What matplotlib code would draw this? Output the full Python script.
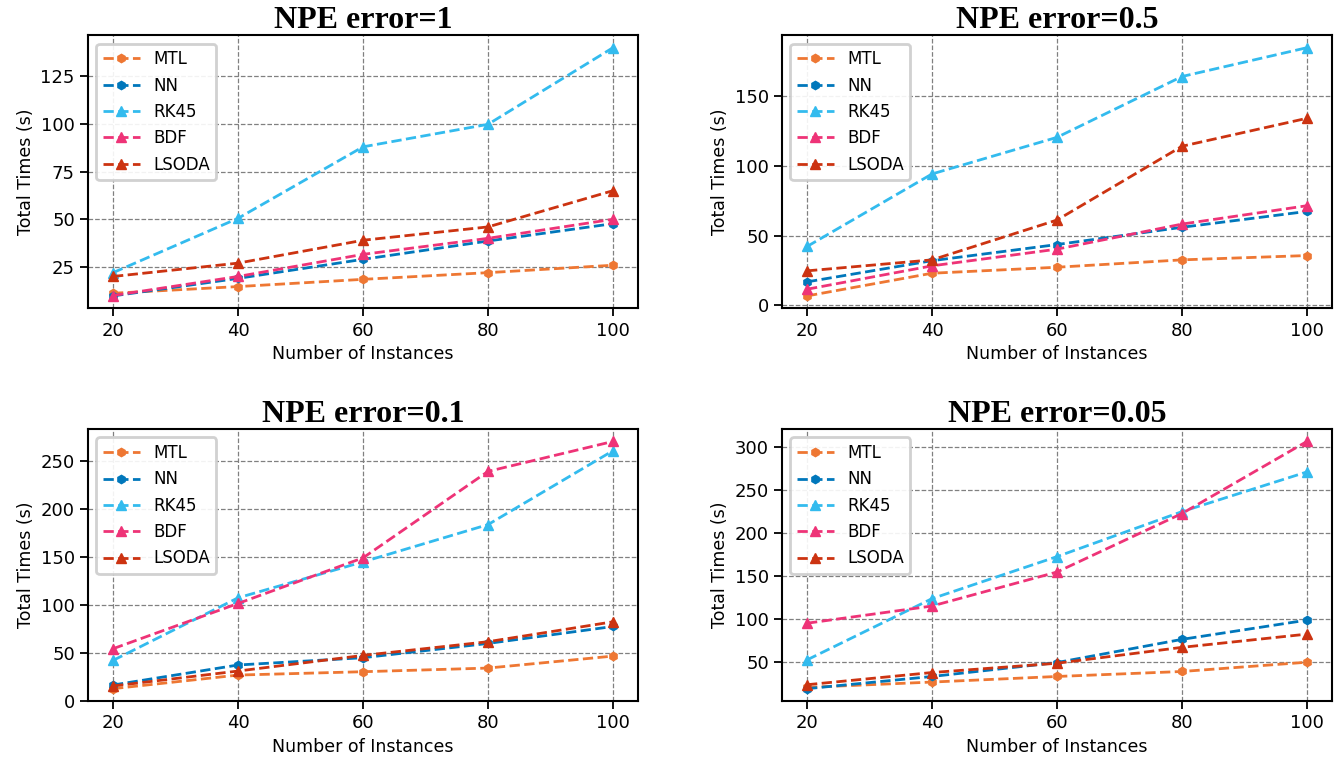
import matplotlib
matplotlib.use("Agg")
import matplotlib.pyplot as plt

instances = [20, 40, 60, 80, 100]
methods = ["MTL", "NN", "RK45", "BDF", "LSODA"]

# total times (s) per method, one list per NPE error level
err_1 = {
    "MTL": [11.2, 14.7, 18.5, 22.0, 25.9],
    "NN": [9.8, 19.0, 29.0, 38.6, 47.7],
    "RK45": [22.0, 50.5, 88.0, 99.8, 140.0],
    "BDF": [10.0, 20.0, 31.6, 40.0, 50.0],
    "LSODA": [20.0, 27.0, 39.0, 46.0, 65.0],
}
err_05 = {
    "MTL": [6.7, 23.0, 27.3, 32.6, 35.7],
    "NN": [16.8, 32.0, 43.6, 56.0, 67.4],
    "RK45": [42.2, 94.3, 120.6, 164.3, 185.0],
    "BDF": [11.5, 28.3, 40.3, 58.3, 71.5],
    "LSODA": [24.7, 32.6, 61.2, 114.2, 134.3],
}
err_01 = {
    "MTL": [12.5, 26.7, 30.2, 34.0, 46.5],
    "NN": [16.3, 37.2, 44.8, 59.7, 77.4],
    "RK45": [42.0, 107.3, 144.8, 183.7, 260.8],
    "BDF": [54.2, 101.4, 149.0, 239.2, 270.5],
    "LSODA": [15.3, 30.9, 47.2, 61.5, 82.3],
}
err_005 = {
    "MTL": [20.7, 26.9, 33.4, 39.2, 50.0],
    "NN": [19.2, 33.4, 49.6, 76.6, 99.0],
    "RK45": [52.7, 124.0, 172.9, 225.3, 271.5],
    "BDF": [95.4, 115.4, 155.0, 223.1, 307.0],
    "LSODA": [23.8, 38.0, 48.8, 67.3, 82.7],
}
yticks_1 = [25, 50, 75, 100, 125]
yticks_05 = [0, 50, 100, 150]
yticks_01 = [0, 50, 100, 150, 200, 250]
yticks_005 = [50, 100, 150, 200, 250, 300]

panels = [("NPE error=1", err_1, yticks_1), ("NPE error=0.5", err_05, yticks_05),
          ("NPE error=0.1", err_01, yticks_01), ("NPE error=0.05", err_005, yticks_005)]

colors = {"MTL": "#EE7733", "NN": "#0077BB", "RK45": "#33BBEE",
          "BDF": "#EE3377", "LSODA": "#CC3311"}
markers = {"MTL": "h", "NN": "h", "RK45": "^", "BDF": "^", "LSODA": "^"}
msizes = {"MTL": 6, "NN": 6, "RK45": 7.5, "BDF": 7.5, "LSODA": 7.5}

fig = plt.figure(figsize=(13.4, 7.67), dpi=100)
# axes rectangles in figure fractions
rects = [
    [0.0657, 0.598, 0.4104, 0.356],
    [0.5836, 0.598, 0.4104, 0.356],
    [0.0657, 0.086, 0.4104, 0.3546],
    [0.5836, 0.086, 0.4104, 0.3546],
]

for rect, (title, data, yt) in zip(rects, panels):
    ax = fig.add_axes(rect)
    for m in methods:
        ax.plot(instances, data[m], linestyle="--", linewidth=2, color=colors[m],
                marker=markers[m], markersize=msizes[m], label=m)
    ax.set_xticks(instances)
    ax.set_yticks(yt)
    ax.grid(True, color="gray", linestyle="--", linewidth=0.9)
    ax.set_axisbelow(True)
    ax.tick_params(axis="both", labelsize=13, length=6, width=1.3, direction="out")
    for s in ax.spines.values():
        s.set_linewidth(1.5)
    ax.set_xlabel("Number of Instances", fontsize=12.5)
    ax.set_ylabel("Total Times (s)", fontsize=12.5)
    ax.set_title(title, fontsize=23, fontweight="bold", family="Liberation Serif", pad=4)
    leg = ax.legend(loc="upper left", fontsize=12, framealpha=0.9, edgecolor="#cccccc",
                    handlelength=2.2)
    leg.get_frame().set_linewidth(2)

fig.savefig("out.png", dpi=100)
